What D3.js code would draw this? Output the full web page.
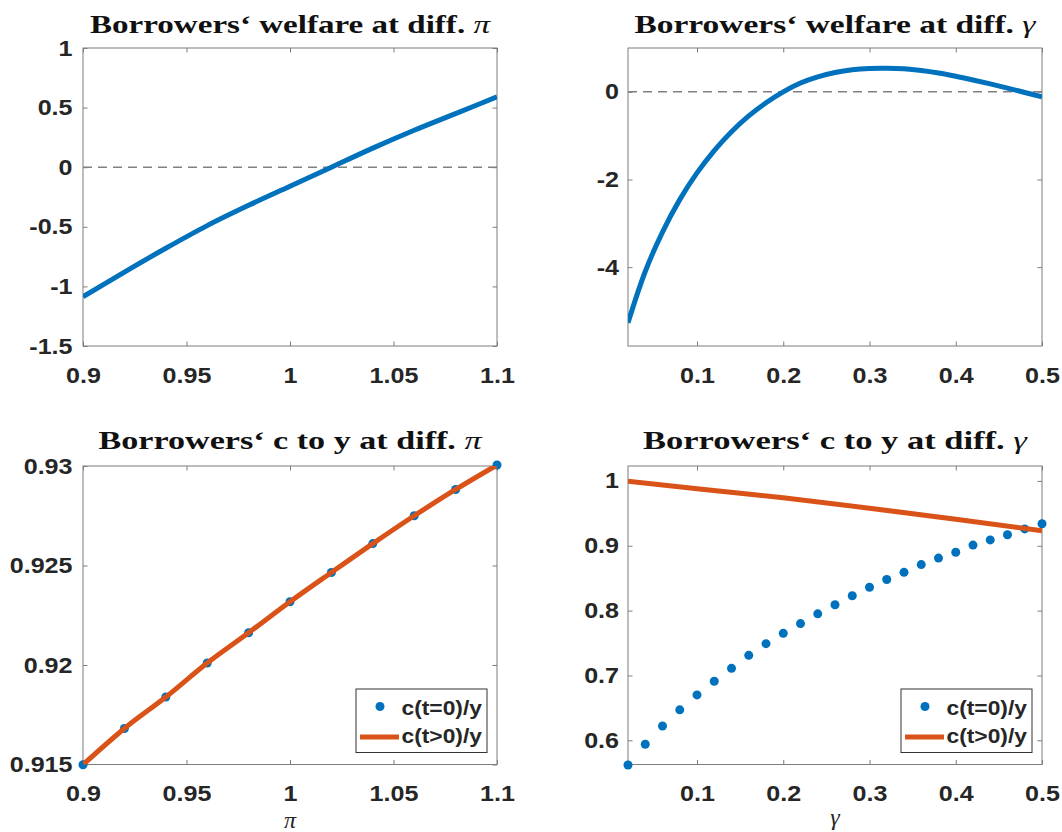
<!DOCTYPE html>
<html>
<head>
<meta charset="utf-8">
<script src="https://cdn.jsdelivr.net/npm/d3@7"></script>
<style>
  html, body { margin: 0; padding: 0; background: #fff; }
  svg { display: block; }
</style>
</head>
<body>
<svg id="chart" width="1062" height="832"></svg>
<script>
// ---------------- DATA ----------------
// Panel 1: welfare vs pi
const piGrid = [0.90, 0.92, 0.94, 0.96, 0.98, 1.00, 1.02, 1.04, 1.06, 1.08, 1.10];
const welfarePi = [-1.086, -0.88, -0.68, -0.49, -0.32, -0.16, 0.0, 0.16, 0.31, 0.45, 0.59];
const piXTicks = [0.9, 0.95, 1, 1.05, 1.1];
const welfarePiYTicks = [-1.5, -1, -0.5, 0, 0.5, 1];

// Panel 2: welfare vs gamma
const gammaWelfareGrid = [0.02, 0.04, 0.06, 0.08, 0.10, 0.12, 0.14, 0.16, 0.18, 0.20,
  0.22, 0.24, 0.26, 0.28, 0.30, 0.32, 0.34, 0.36, 0.38, 0.40, 0.42, 0.44, 0.46, 0.48, 0.50];
const welfareGamma = [-5.27, -4.10, -3.20, -2.46, -1.85, -1.34, -0.91, -0.55, -0.25, 0.0,
  0.20, 0.34, 0.44, 0.505, 0.535, 0.54, 0.525, 0.487, 0.43, 0.355, 0.27, 0.18, 0.085, -0.015, -0.115];
const gammaXTicks = [0.1, 0.2, 0.3, 0.4, 0.5];
const welfareGammaYTicks = [-4, -2, 0];

// Panel 3: c to y vs pi
const ct0Pi = [0.91499, 0.91681, 0.91839, 0.92010, 0.92162, 0.92318, 0.92465, 0.92610, 0.92750, 0.92882, 0.93005];
const ctPosPi = [0.91499, 0.91681, 0.91839, 0.92010, 0.92162, 0.92318, 0.92465, 0.92610, 0.92750, 0.92882, 0.93005];
const ctPiYTicks = [0.915, 0.92, 0.925, 0.93];

// Panel 4: c to y vs gamma
const gammaDotGrid = [0.02, 0.04, 0.06, 0.08, 0.10, 0.12, 0.14, 0.16, 0.18, 0.20, 0.22, 0.24, 0.26,
  0.28, 0.30, 0.32, 0.34, 0.36, 0.38, 0.40, 0.42, 0.44, 0.46, 0.48, 0.50];
const ct0Gamma = [0.562, 0.594, 0.622, 0.647, 0.670, 0.691, 0.711, 0.731, 0.749, 0.765, 0.780, 0.795, 0.809,
  0.823, 0.836, 0.848, 0.859, 0.871, 0.881, 0.890, 0.901, 0.909, 0.917, 0.926, 0.934];
const gammaLineGrid = [0.02, 0.10, 0.20, 0.30, 0.40, 0.50];
const ctPosGamma = [0.9995, 0.988, 0.974, 0.958, 0.941, 0.923];
const ctGammaYTicks = [0.6, 0.7, 0.8, 0.9, 1];

const legendLabels = ["c(t=0)/y", "c(t>0)/y"];
const titles = ["Borrowers‘ welfare at diff. ", "Borrowers‘ welfare at diff. ", "Borrowers‘ c to y at diff. ", "Borrowers‘ c to y at diff. "];
const titleSymbols = ["π", "γ", "π", "γ"];

// ---------------- STYLE ----------------
const BLUE = "#0072BD", ORANGE = "#D95319";
const BOX = "#7d7d7d", TXT = "#262626";
const XSTRETCH = 1.14;

const svg = d3.select("#chart");
const defs = svg.append("defs");

const panels = [
  {x0: 83,  x1: 497,  y0: 48,  y1: 346},
  {x0: 628, x1: 1042, y0: 48,  y1: 346},
  {x0: 83,  x1: 497,  y0: 466, y1: 764.5},
  {x0: 628, x1: 1042, y0: 466, y1: 764.5}
];
const titleWidths = [400, 401, 383, 384];
const titleBaselines = [33, 33, 449, 449];

function stretchText(sel, k) {
  sel.each(function () {
    const L = this.getComputedTextLength();
    d3.select(this).attr("textLength", L * k).attr("lengthAdjust", "spacingAndGlyphs");
  });
}

function makePanel(i, xDomain, yDomain, xTicks, yTicks) {
  const p = panels[i];
  const x = d3.scaleLinear().domain(xDomain).range([p.x0, p.x1]);
  const y = d3.scaleLinear().domain(yDomain).range([p.y1, p.y0]);
  const g = svg.append("g");

  defs.append("clipPath").attr("id", "clip" + i)
    .append("rect").attr("x", p.x0).attr("y", p.y0).attr("width", p.x1 - p.x0).attr("height", p.y1 - p.y0);

  g.append("rect").attr("x", p.x0).attr("y", p.y0).attr("width", p.x1 - p.x0).attr("height", p.y1 - p.y0)
    .attr("fill", "#fff").attr("stroke", BOX).attr("stroke-width", 1);

  const fmt = d => String(d);
  g.append("g").attr("transform", `translate(0,${p.y1})`)
    .call(d3.axisBottom(x).tickValues(xTicks).tickSize(-4.5).tickSizeOuter(0).tickPadding(21).tickFormat(fmt));
  g.append("g").attr("transform", `translate(${p.x0},0)`)
    .call(d3.axisLeft(y).tickValues(yTicks).tickSize(-4.5).tickSizeOuter(0).tickPadding(i % 2 === 0 ? 10.5 : 9).tickFormat(fmt));
  g.append("g").attr("transform", `translate(0,${p.y0})`)
    .call(d3.axisTop(x).tickValues(xTicks).tickSize(-4.5).tickSizeOuter(0).tickFormat(""));
  g.append("g").attr("transform", `translate(${p.x1},0)`)
    .call(d3.axisRight(y).tickValues(yTicks).tickSize(-4.5).tickSizeOuter(0).tickFormat(""));

  g.selectAll(".domain").remove();
  g.selectAll(".tick line").attr("stroke", BOX).attr("stroke-width", 1);
  g.selectAll(".tick text")
    .attr("fill", TXT)
    .attr("font-size", null)
    .attr("font-family", null)
    .style("font-family", "'Liberation Sans', Arial, sans-serif")
    .style("font-weight", "bold")
    .style("font-size", "22px");
  g.selectAll(".tick text").call(stretchText, XSTRETCH);

  const t = svg.append("text")
    .attr("x", (p.x0 + p.x1) / 2).attr("y", titleBaselines[i])
    .attr("text-anchor", "middle")
    .attr("fill", "#111")
    .style("font-family", "'Liberation Serif', 'Times New Roman', serif")
    .style("font-weight", "bold")
    .style("font-size", "25px");
  t.append("tspan").text(titles[i]);
  t.append("tspan").style("font-style", "italic").style("font-weight", "normal").text(titleSymbols[i]);
  t.attr("textLength", titleWidths[i]).attr("lengthAdjust", "spacingAndGlyphs");

  return {x, y, g, p};
}

function drawLegend(P) {
  const p = P.p;
  const bx = p.x1 - 10 - 131, by = 689, bw = 131, bh = 63.5;
  const lg = svg.append("g");
  lg.append("rect").attr("x", bx).attr("y", by).attr("width", bw).attr("height", bh)
    .attr("fill", "#fff").attr("stroke", "#333").attr("stroke-width", 1);
  lg.append("circle").attr("cx", bx + 24).attr("cy", by + 17.5).attr("r", 4.5).attr("fill", BLUE);
  lg.append("line").attr("x1", bx + 4).attr("x2", bx + 43).attr("y1", by + 48).attr("y2", by + 48)
    .attr("stroke", ORANGE).attr("stroke-width", 5);
  lg.selectAll("text.lbl").data(legendLabels).enter().append("text")
    .attr("class", "lbl")
    .attr("x", bx + 45.5)
    .attr("y", (d, k) => by + 25.5 + k * 28)
    .attr("fill", TXT)
    .style("font-family", "'Liberation Sans', Arial, sans-serif")
    .style("font-weight", "bold")
    .style("font-size", "20px")
    .text(d => d)
    .call(stretchText, XSTRETCH);
}

function zeroLine(P) {
  P.g.append("line").attr("x1", P.p.x0).attr("x2", P.p.x1).attr("y1", P.y(0)).attr("y2", P.y(0))
    .attr("stroke", "#808080").attr("stroke-width", 1.4).attr("stroke-dasharray", "9,6");
}

// ---------- Panel 1 ----------
{
  const P = makePanel(0, [0.9, 1.1], [-1.5, 1], piXTicks, welfarePiYTicks);
  zeroLine(P);
  P.g.append("path").datum(piGrid.map((v, k) => [v, welfarePi[k]]))
    .attr("clip-path", "url(#clip0)")
    .attr("fill", "none").attr("stroke", BLUE).attr("stroke-width", 5)
    .attr("d", d3.line().x(d => P.x(d[0])).y(d => P.y(d[1])).curve(d3.curveMonotoneX));
}

// ---------- Panel 2 ----------
{
  const P = makePanel(1, [0.02, 0.5], [-5.8, 1.0], gammaXTicks, welfareGammaYTicks);
  zeroLine(P);
  P.g.append("path").datum(gammaWelfareGrid.map((v, k) => [v, welfareGamma[k]]))
    .attr("clip-path", "url(#clip1)")
    .attr("fill", "none").attr("stroke", BLUE).attr("stroke-width", 5)
    .attr("d", d3.line().x(d => P.x(d[0])).y(d => P.y(d[1])).curve(d3.curveCatmullRom.alpha(0.5)));
}

// ---------- Panel 3 ----------
{
  const P = makePanel(2, [0.9, 1.1], [0.915, 0.93], piXTicks, ctPiYTicks);
  P.g.selectAll("circle.dot").data(piGrid.map((v, k) => [v, ct0Pi[k]])).enter().append("circle")
    .attr("class", "dot").attr("cx", d => P.x(d[0])).attr("cy", d => P.y(d[1])).attr("r", 4.5).attr("fill", BLUE);
  P.g.append("path").datum(piGrid.map((v, k) => [v, ctPosPi[k]]))
    .attr("clip-path", "url(#clip2)")
    .attr("fill", "none").attr("stroke", ORANGE).attr("stroke-width", 5)
    .attr("d", d3.line().x(d => P.x(d[0])).y(d => P.y(d[1])).curve(d3.curveMonotoneX));
  drawLegend(P);
  svg.append("text").attr("x", (P.p.x0 + P.p.x1) / 2).attr("y", 828)
    .attr("text-anchor", "middle").attr("fill", TXT)
    .style("font-family", "'Liberation Serif', 'Times New Roman', serif")
    .style("font-style", "italic").style("font-size", "24px").text("π");
}

// ---------- Panel 4 ----------
{
  const P = makePanel(3, [0.02, 0.5], [0.5627, 1.023], gammaXTicks, ctGammaYTicks);
  P.g.selectAll("circle.dot").data(gammaDotGrid.map((v, k) => [v, ct0Gamma[k]])).enter().append("circle")
    .attr("class", "dot").attr("cx", d => P.x(d[0])).attr("cy", d => P.y(d[1])).attr("r", 4.5).attr("fill", BLUE);
  P.g.append("path").datum(gammaLineGrid.map((v, k) => [v, ctPosGamma[k]]))
    .attr("clip-path", "url(#clip3)")
    .attr("fill", "none").attr("stroke", ORANGE).attr("stroke-width", 5)
    .attr("d", d3.line().x(d => P.x(d[0])).y(d => P.y(d[1])).curve(d3.curveMonotoneX));
  drawLegend(P);
  svg.append("text").attr("x", (P.p.x0 + P.p.x1) / 2).attr("y", 825)
    .attr("text-anchor", "middle").attr("fill", TXT)
    .style("font-family", "'Liberation Serif', 'Times New Roman', serif")
    .style("font-style", "italic").style("font-size", "24px").text("γ");
}
</script>
</body>
</html>
